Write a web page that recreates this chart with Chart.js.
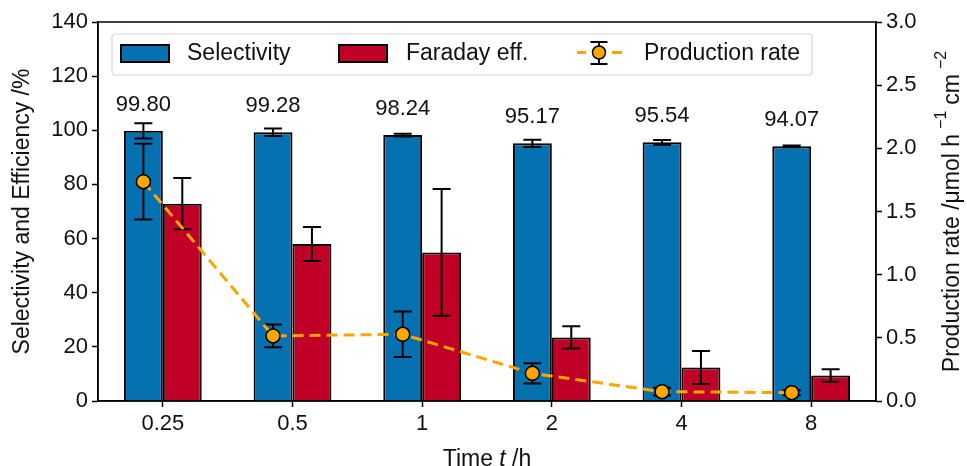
<!DOCTYPE html>
<html>
<head>
<meta charset="utf-8">
<script src="https://cdn.jsdelivr.net/npm/chart.js@4"></script>
<style>
  html, body { margin: 0; padding: 0; background: #fff; }
  #wrap { width: 967px; height: 466px; position: relative; }
</style>
</head>
<body>
<div id="wrap"><canvas id="chart"></canvas></div>
<script>
const timeLabels = ["0.25", "0.5", "1", "2", "4", "8"];
const selectivity = [99.80, 99.28, 98.24, 95.17, 95.54, 94.07];
const selectivityErr = [2.8, 1.4, 0.5, 1.3, 0.9, 0.3];
const faradayEff = [72.9, 58.0, 54.9, 23.5, 12.4, 9.4];
const faradayErr = [9.5, 6.3, 23.4, 4.1, 6.1, 2.3];
const productionRate = [1.736, 0.515, 0.528, 0.219, 0.074, 0.066];
const productionErr = [0.30, 0.09, 0.18, 0.08, 0.03, 0.02];

const FONT = "Liberation Sans, Arial, sans-serif";
const blue = "#0571b0";
const red = "#c00026";
const orange = "#ffa500";

function drawErr(ctx, x, yTop, yBot, cap) {
  ctx.beginPath();
  ctx.moveTo(x, yTop); ctx.lineTo(x, yBot);
  ctx.moveTo(x - cap, yTop); ctx.lineTo(x + cap, yTop);
  ctx.moveTo(x - cap, yBot); ctx.lineTo(x + cap, yBot);
  ctx.stroke();
}

// production rate points sit on the selectivity bar centres
const alignLinePlugin = {
  id: "alignLinePlugin",
  afterDatasetsUpdate(chart) {
    const bars = chart.getDatasetMeta(0).data;
    chart.getDatasetMeta(2).data.forEach((pt, i) => {
      if (bars[i]) pt.x = bars[i].x;
    });
  }
};

const errorBarPlugin = {
  id: "errorBarPlugin",
  afterDatasetDraw(chart, args) {
    const ds = chart.data.datasets[args.index];
    if (!ds.errors || ds.type !== "bar") return;
    const { ctx } = chart;
    const y = chart.scales.y;
    ctx.save();
    ctx.strokeStyle = "#000";
    ctx.lineWidth = 2;
    args.meta.data.forEach((el, i) => {
      const v = ds.data[i], e = ds.errors[i];
      drawErr(ctx, el.x, y.getPixelForValue(v + e), y.getPixelForValue(v - e), 9);
    });
    ctx.restore();
  },
  beforeDatasetDraw(chart, args) {
    const ds = chart.data.datasets[args.index];
    if (!ds.errors || ds.type !== "line") return;
    const { ctx } = chart;
    const y = chart.scales.y1;
    ctx.save();
    ctx.strokeStyle = "#000";
    ctx.lineWidth = 2;
    args.meta.data.forEach((el, i) => {
      const v = ds.data[i], e = ds.errors[i];
      drawErr(ctx, el.x, y.getPixelForValue(v + e), y.getPixelForValue(v - e), 9);
    });
    ctx.restore();
  }
};

const decorPlugin = {
  id: "decorPlugin",
  afterDraw(chart) {
    const { ctx, chartArea: a } = chart;
    const y = chart.scales.y;
    const blueMeta = chart.getDatasetMeta(0);

    ctx.save();
    // value labels over selectivity bars
    ctx.fillStyle = "#111";
    ctx.font = `22px ${FONT}`;
    ctx.textAlign = "center";
    ctx.textBaseline = "middle";
    blueMeta.data.forEach((el, i) => {
      ctx.fillText(selectivity[i].toFixed(2), el.x, y.getPixelForValue(selectivity[i]) - 26);
    });

    // frame
    ctx.strokeStyle = "#000";
    ctx.lineWidth = 1.5;
    ctx.strokeRect(a.left, a.top, a.right - a.left, a.bottom - a.top);

    // legend
    const lx = 112, ly = 34, lw = 700, lh = 41;
    ctx.fillStyle = "rgba(255,255,255,0.85)";
    ctx.strokeStyle = "#d6d6d6";
    ctx.lineWidth = 1.2;
    ctx.beginPath();
    ctx.roundRect(lx, ly, lw, lh, 3);
    ctx.fill(); ctx.stroke();

    ctx.lineWidth = 2;
    ctx.strokeStyle = "#000";
    ctx.fillStyle = blue;
    ctx.fillRect(121, 45, 48, 17); ctx.strokeRect(121, 45, 48, 17);
    ctx.fillStyle = red;
    ctx.fillRect(339, 45, 48, 17); ctx.strokeRect(339, 45, 48, 17);

    // production rate legend glyph
    ctx.strokeStyle = orange;
    ctx.lineWidth = 3;
    ctx.beginPath();
    ctx.moveTo(577, 52.5); ctx.lineTo(586, 52.5);
    ctx.moveTo(612, 52.5); ctx.lineTo(622, 52.5);
    ctx.stroke();
    ctx.strokeStyle = "#000";
    ctx.lineWidth = 2;
    drawErr(ctx, 599, 42, 64, 8.5);
    ctx.fillStyle = orange;
    ctx.lineWidth = 1.5;
    ctx.beginPath();
    ctx.arc(599, 52.5, 6.5, 0, Math.PI * 2);
    ctx.fill(); ctx.stroke();

    ctx.fillStyle = "#111";
    ctx.font = `23px ${FONT}`;
    ctx.textAlign = "left";
    ctx.fillText("Selectivity", 187, 54);
    ctx.fillText("Faraday eff.", 406, 54);
    ctx.fillText("Production rate", 644, 54);

    // x axis title
    ctx.textBaseline = "alphabetic";
    const p1 = "Time ", p3 = " /h";
    ctx.font = `23px ${FONT}`;
    const w1 = ctx.measureText(p1).width, w3 = ctx.measureText(p3).width;
    ctx.font = `italic 23px ${FONT}`;
    const w2 = ctx.measureText("t").width;
    let tx = (a.left + a.right) / 2 - (w1 + w2 + w3) / 2;
    const ty = 466;
    ctx.font = `23px ${FONT}`;
    ctx.fillText(p1, tx, ty); tx += w1;
    ctx.font = `italic 23px ${FONT}`;
    ctx.fillText("t", tx, ty); tx += w2;
    ctx.font = `23px ${FONT}`;
    ctx.fillText(p3, tx, ty);

    // left axis title
    ctx.textBaseline = "middle";
    ctx.save();
    ctx.translate(23, (a.top + a.bottom) / 2);
    ctx.rotate(-Math.PI / 2);
    ctx.textAlign = "center";
    ctx.fillText("Selectivity and Efficiency /%", 0, 0);
    ctx.restore();

    // right axis title with superscripts
    ctx.save();
    ctx.translate(953, 0);
    ctx.rotate(-Math.PI / 2);
    const parts = [
      ["Production rate /\u03bcmol h", 23, 0, 0],
      ["\u22121", 16, -11, 5],
      ["cm", 23, 0, 6],
      ["\u22122", 16, -11, 5]
    ];
    let total = 0;
    parts.forEach(([t, s, , gap]) => { ctx.font = `${s}px ${FONT}`; total += ctx.measureText(t).width + gap; });
    let px = -((a.top + a.bottom) / 2) - total / 2;
    ctx.textAlign = "left";
    parts.forEach(([t, s, dy, gap]) => {
      ctx.font = `${s}px ${FONT}`;
      px += gap;
      ctx.fillText(t, px, dy);
      px += ctx.measureText(t).width;
    });
    ctx.restore();

    ctx.restore();
  }
};

const tickStyle = { color: "#111", font: { family: FONT, size: 22 }, padding: 4 };
const gridStyle = { display: true, drawOnChartArea: false, drawTicks: true, tickLength: 6, tickColor: "#000", tickWidth: 1.5 };

new Chart(document.getElementById("chart"), {
  data: {
    labels: timeLabels,
    datasets: [
      {
        type: "bar", label: "Selectivity", data: selectivity, errors: selectivityErr,
        backgroundColor: blue, borderColor: "#000", borderWidth: 2,
        categoryPercentage: 0.6, barPercentage: 1.0, order: 2,
        xAxisID: "x", yAxisID: "y"
      },
      {
        type: "bar", label: "Faraday eff.", data: faradayEff, errors: faradayErr,
        backgroundColor: red, borderColor: "#000", borderWidth: 2,
        categoryPercentage: 0.6, barPercentage: 1.0, order: 2,
        xAxisID: "x", yAxisID: "y"
      },
      {
        type: "line", label: "Production rate", data: productionRate, errors: productionErr,
        xAxisID: "x", yAxisID: "y1", order: 0,
        borderColor: orange, borderWidth: 3, borderDash: [11, 6],
        pointRadius: 7, pointBackgroundColor: orange, pointBorderColor: "#000", pointBorderWidth: 1.5,
        tension: 0, fill: false
      }
    ]
  },
  options: {
    responsive: true,
    maintainAspectRatio: false,
    animation: false,
    layout: { padding: { top: 22, right: 0, bottom: 0, left: 0 } },
    plugins: { legend: { display: false }, tooltip: { enabled: false } },
    scales: {
      x: {
        type: "category", offset: true,
        grid: { ...gridStyle, offset: false },
        border: { display: true, color: "#000", width: 1.5 },
        ticks: { ...tickStyle, padding: 4 },
        afterFit(s) { s.height = 65; }
      },
      y: {
        position: "left", min: 0, max: 140,
        ticks: { ...tickStyle, stepSize: 20 },
        grid: gridStyle,
        border: { display: true, color: "#000", width: 1.5 },
        afterFit(s) { s.width = 98; }
      },
      y1: {
        position: "right", min: 0, max: 3,
        ticks: { ...tickStyle, stepSize: 0.5, callback: (v) => v.toFixed(1) },
        grid: gridStyle,
        border: { display: true, color: "#000", width: 1.5 },
        afterFit(s) { s.width = 91; }
      }
    }
  },
  plugins: [alignLinePlugin, errorBarPlugin, decorPlugin]
});
</script>
</body>
</html>
